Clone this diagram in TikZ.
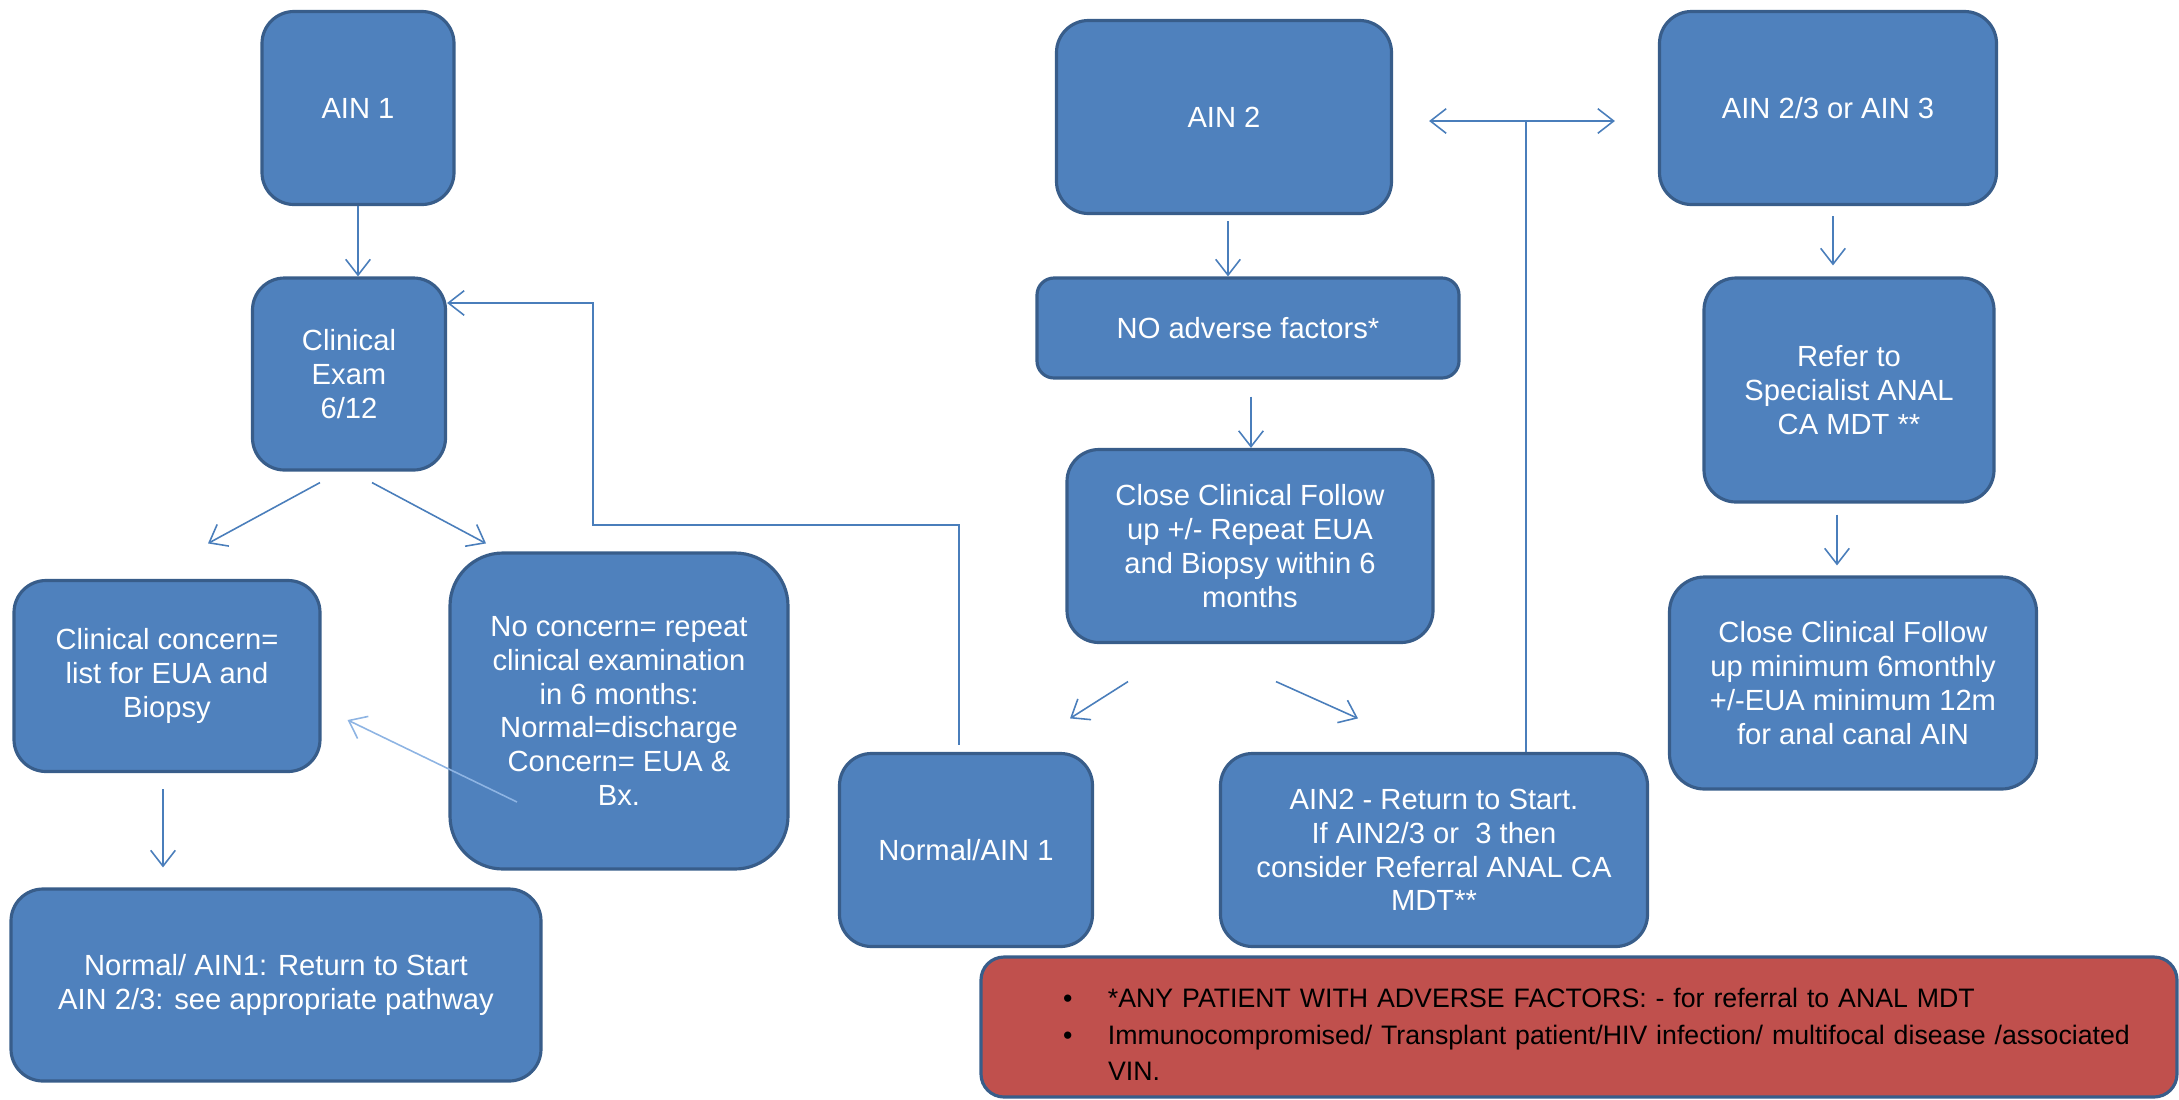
\documentclass[tikz,border=0pt]{standalone}
\usepackage{fontspec}
\setmainfont{Liberation Sans}
\usetikzlibrary{arrows.meta}
\definecolor{boxblue}{HTML}{4F81BD}
\definecolor{boxline}{HTML}{385D8A}
\definecolor{linkblue}{HTML}{4A7EBB}
\definecolor{paleblue}{HTML}{8EB4E3}
\definecolor{notered}{HTML}{C0504D}
\newcommand{\boxfont}{\fontsize{8.3}{9.6}\selectfont}
\newcommand{\notefont}{\fontsize{7.6}{10.3}\selectfont}

\begin{document}
\begin{tikzpicture}[>/.tip={Straight Barb[length=4.5pt,width=7pt]},
    box/.style={draw=boxline, fill=boxblue, line width=0.9pt, rounded corners=3.2mm,
        text=white, align=center, font=\boxfont, inner sep=0pt},
    note/.style={draw=boxline, fill=notered, line width=0.9pt, rounded corners=2.3mm,
        text=black, align=left, font=\notefont, inner sep=0pt, text width=11.96cm, minimum height=1.40cm},
    link/.style={draw=linkblue, line width=0.45pt}]
    \useasboundingbox (0,0) rectangle (21.79,-10.99);

    \node [box, minimum width=19.2mm, minimum height=19.3mm] (ain1) at (3.58,-1.08) {AIN 1};
    \node [box, minimum width=19.3mm, minimum height=19.2mm] (exam) at (3.49,-3.74) {Clinical\\Exam\\6/12};
    \node [box, minimum width=30.6mm, minimum height=19.1mm] (concern) at (1.67,-6.76) {Clinical concern=\\list for EUA and\\Biopsy};
    \node [box, minimum width=33.8mm, minimum height=31.6mm, rounded corners=5.3mm] (noconc) at (6.19,-7.11)
        {No concern= repeat\\clinical examination\\in 6 months:\\Normal=discharge\\Concern= EUA \&\\Bx.};
    \node [box, minimum width=53mm, minimum height=19.2mm] (back) at (2.76,-9.85)
        {Normal/ AIN1: Return to Start\\AIN 2/3: see appropriate pathway};

    \node [box, minimum width=33.5mm, minimum height=19.3mm] (ain2) at (12.24,-1.17) {AIN 2};
    \node [box, minimum width=42.2mm, minimum height=10mm, rounded corners=1.7mm] (noadv) at (12.48,-3.28) {NO adverse factors*};
    \node [box, minimum width=36.6mm, minimum height=19.3mm] (follow) at (12.50,-5.46)
        {Close Clinical Follow\\up +/- Repeat EUA\\and Biopsy within 6\\months};
    \node [box, minimum width=25.3mm, minimum height=19.3mm] (normal) at (9.66,-8.50) {Normal/AIN 1};
    \node [box, minimum width=42.7mm, minimum height=19.3mm] (ret) at (14.34,-8.50)
        {AIN2 - Return to Start.\\If AIN2/3 or\ \ 3 then\\consider Referral ANAL CA\\MDT**};

    \node [box, minimum width=33.7mm, minimum height=19.3mm] (ain3) at (18.28,-1.08) {AIN 2/3 or AIN 3};
    \node [box, minimum width=29mm, minimum height=22.4mm] (refer) at (18.49,-3.90) {Refer to\\Specialist ANAL\\CA MDT **};
    \node [box, minimum width=36.7mm, minimum height=21.2mm, rounded corners=3.5mm] (follow3) at (18.53,-6.83)
        {Close Clinical Follow\\up minimum 6monthly\\+/-EUA minimum 12m\\for anal canal AIN};

    \node [note] (note) at (15.79,-10.27) {\begin{tabular}{@{\hspace{8.2mm}}p{4.5mm}@{}l@{}}
        \rule{0pt}{12.8pt}\textbullet & *ANY PATIENT WITH ADVERSE FACTORS: - for referral to ANAL MDT\\
        \textbullet & Immunocompromised/ Transplant patient/HIV infection/ multifocal disease /associated\\
         & VIN.
        \end{tabular}};

    \draw[link,->] (ain1.south) -- (ain1.south |- exam.north);
    \draw[link,->] ([xshift=-2.9mm,yshift=-1.1mm]exam.south) -- ([xshift=4.1mm,yshift=3.55mm]concern.north);
    \draw[link,->] ([xshift=2.3mm,yshift=-1.1mm]exam.south) -- ([xshift=-13.3mm,yshift=0.8mm]noconc.north);
    \draw[link,->] ([xshift=-0.4mm,yshift=-1.6mm]concern.south) -- ([xshift=-0.4mm,yshift=2mm]concern.south |- back.north);
    \draw[link,->,draw=paleblue] ([xshift=-10.2mm,yshift=-9.1mm]noconc.center) -- ([xshift=2.6mm,yshift=-4.4mm]concern.east);
    \draw[link,->] ([xshift=-0.7mm,yshift=0.7mm]normal.north) |- (5.93,-5.25) |- ([yshift=7.1mm]exam.east);

    \draw[link,->] ([xshift=0.4mm,yshift=-0.6mm]ain2.south) -- ([xshift=0.4mm]ain2.south |- noadv.north);
    \draw[link,->] ([xshift=0.3mm,yshift=-1.7mm]noadv.south) -- ([xshift=0.3mm]noadv.south |- follow.north);
    \draw[link,->] ([xshift=-12.2mm,yshift=-3.75mm]follow.south) -- ([xshift=10.4mm,yshift=3.35mm]normal.north);
    \draw[link,->] ([xshift=2.6mm,yshift=-3.75mm]follow.south) -- ([xshift=-7.6mm,yshift=3.35mm]ret.north);
    \draw[link] ([xshift=9.2mm]ret.north) -- ++(0,6.32);
    \draw[link,<->] ([xshift=3.6mm,yshift=-0.4mm]ain2.east) -- ([xshift=-4.3mm,yshift=-1.3mm]ain3.west);

    \draw[link,->] ([xshift=0.5mm,yshift=-1mm]ain3.south) -- ([xshift=0.5mm,yshift=1.1mm]ain3.south |- refer.north);
    \draw[link,->] ([xshift=-1.2mm,yshift=-1.1mm]refer.south) -- ([xshift=-1.2mm,yshift=1mm]refer.south |- follow3.north);
\end{tikzpicture}
\end{document}
